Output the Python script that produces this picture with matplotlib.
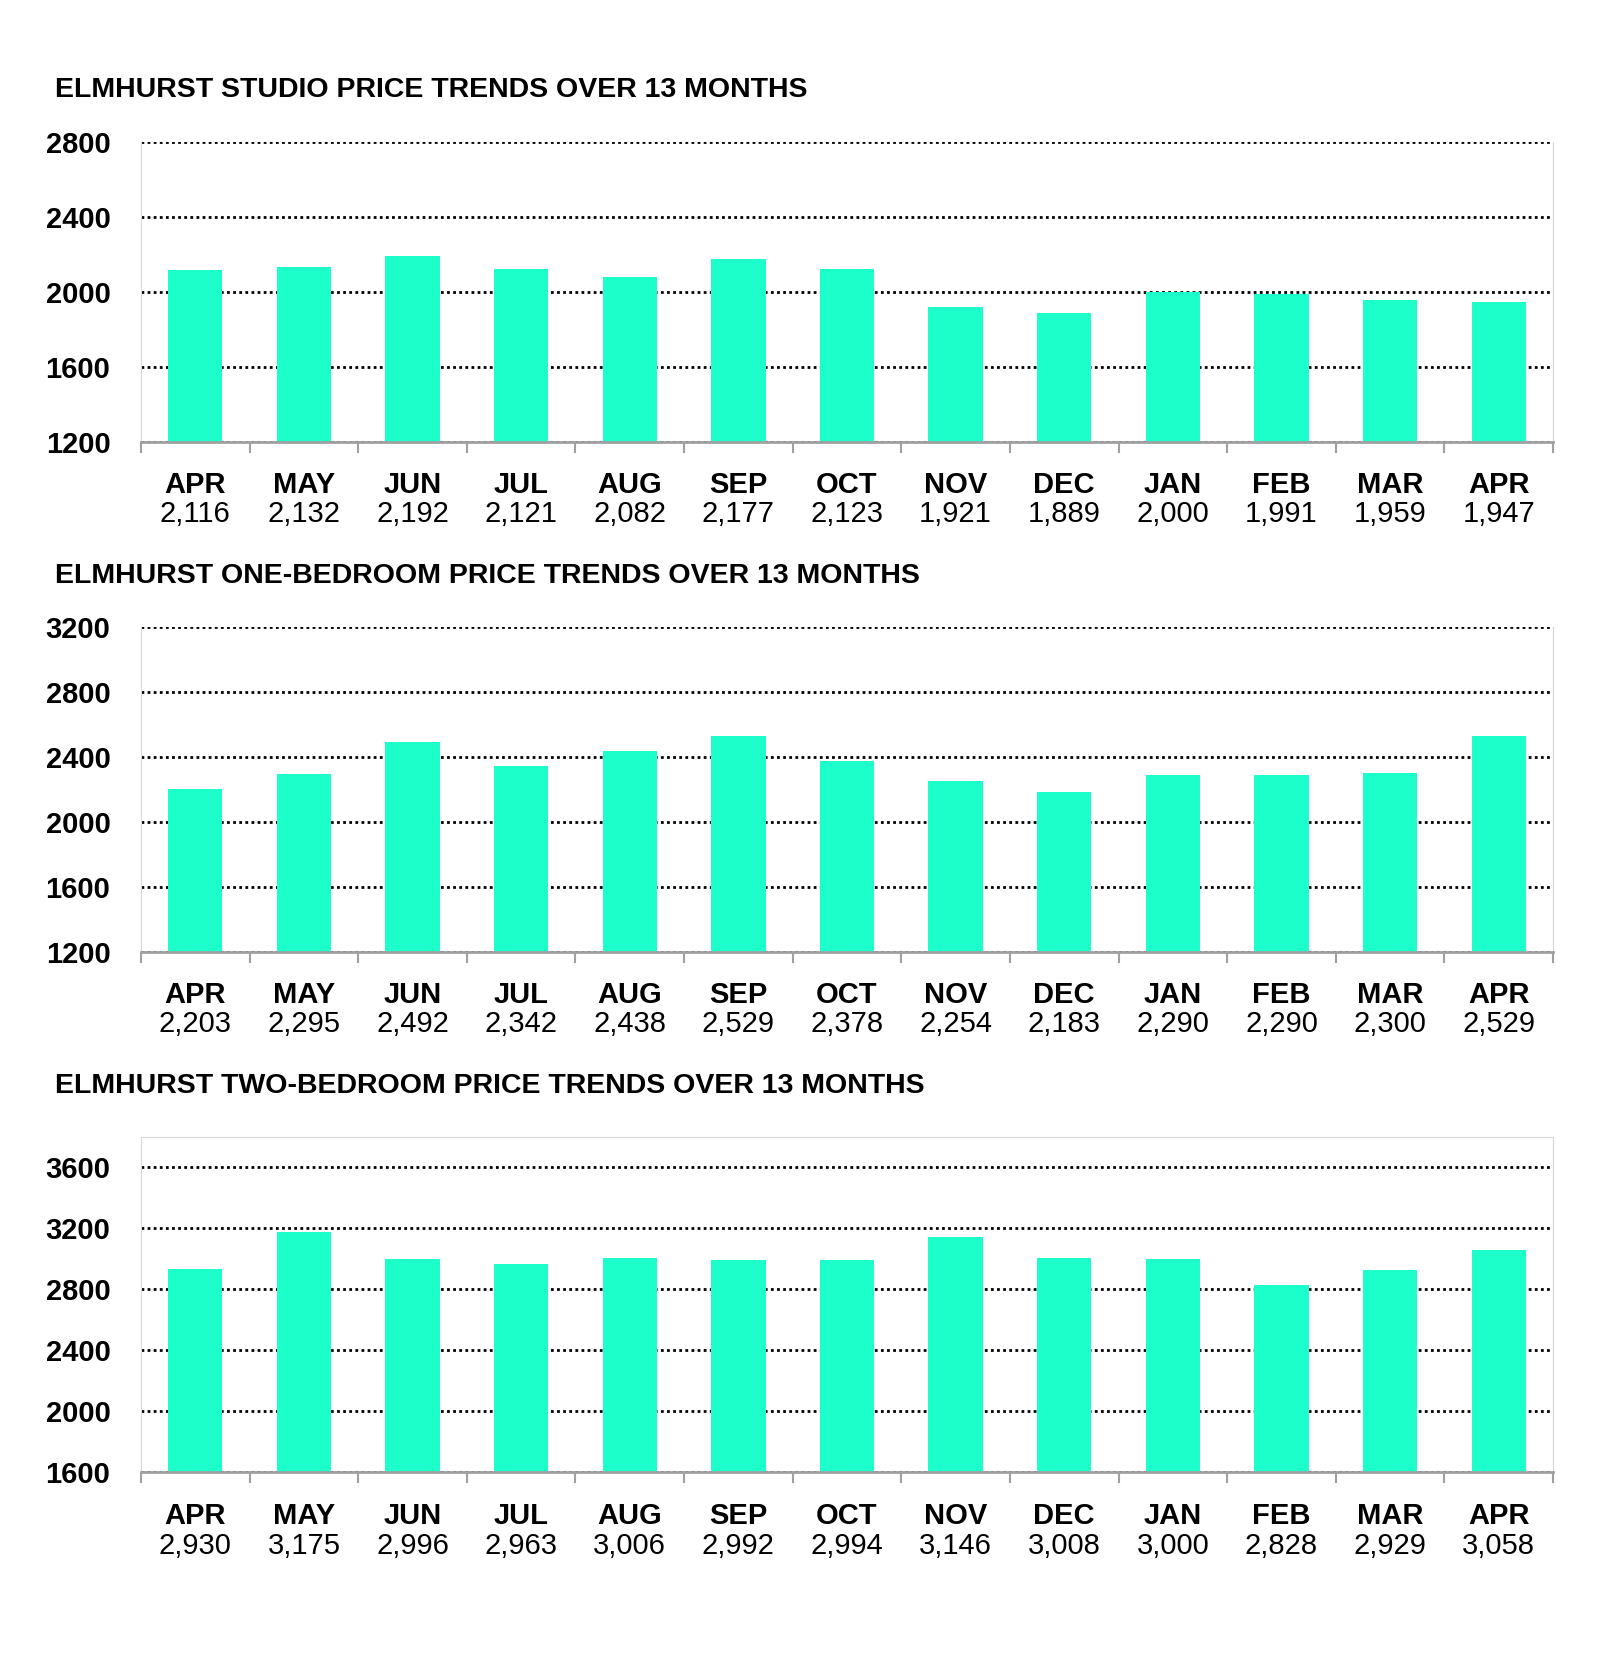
import matplotlib.pyplot as plt
import numpy as np

months = ["APR", "MAY", "JUN", "JUL", "AUG", "SEP", "OCT", "NOV", "DEC", "JAN", "FEB", "MAR", "APR"]
studio = [2116, 2132, 2192, 2121, 2082, 2177, 2123, 1921, 1889, 2000, 1991, 1959, 1947]
one_bed = [2203, 2295, 2492, 2342, 2438, 2529, 2378, 2254, 2183, 2290, 2290, 2300, 2529]
two_bed = [2930, 3175, 2996, 2963, 3006, 2992, 2994, 3146, 3008, 3000, 2828, 2929, 3058]

titles = ["ELMHURST STUDIO PRICE TRENDS OVER 13 MONTHS",
          "ELMHURST ONE-BEDROOM PRICE TRENDS OVER 13 MONTHS",
          "ELMHURST TWO-BEDROOM PRICE TRENDS OVER 13 MONTHS"]
ylims = [(1200, 2800), (1200, 3200), (1600, 3800)]
yticks = [np.arange(1200, 2801, 400), np.arange(1200, 3201, 400), np.arange(1600, 3601, 400)]

plt.rcParams['font.family'] = ['Liberation Sans', 'DejaVu Sans']

W, H = 1600, 1663
fig = plt.figure(figsize=(W / 100, H / 100), dpi=100)

# pixel boxes: (top, bottom) of each plot area, title y
boxes = [(142, 442, 90), (627, 952, 576), (1137, 1472, 1086)]
left, right = 141, 1553
bar_color = "#1CFFCB"

for k, series in enumerate([studio, one_bed, two_bed]):
    top, bot, ty = boxes[k]
    ax = fig.add_axes([left / W, 1 - bot / H, (right - left) / W, (bot - top) / H])
    x = np.arange(len(months))
    ax.bar(x, series, width=0.5, color=bar_color, zorder=2)
    ax.set_xlim(-0.5, len(months) - 0.5)
    ax.set_ylim(*ylims[k])
    ax.set_yticks(yticks[k])
    ax.set_axisbelow(True)
    ax.grid(axis='y', linestyle=(0, (1, 1.2)), color='black', linewidth=2)
    ax.tick_params(axis='y', length=0, pad=22, labelsize=21)
    for lab in ax.get_yticklabels():
        lab.set_fontweight('bold')

    ax.set_xticks(np.arange(-0.5, len(months)), labels=[])
    ax.tick_params(axis='x', length=8, width=1.5, color='#a0a0a0', direction='out')

    ax.spines['bottom'].set_color('#a0a0a0')
    ax.spines['bottom'].set_linewidth(2)
    ax.spines['bottom'].set_zorder(3)
    ax.spines['left'].set_color('#d8d8d8')
    ax.spines['right'].set_color('#d8d8d8')
    if k == 2:
        ax.spines['top'].set_color('#d8d8d8')
    else:
        ax.spines['top'].set_visible(False)

    off1 = 43 if k < 2 else 44
    off2 = 72 if k < 2 else 74
    for i, (m, v) in enumerate(zip(months, series)):
        ax.annotate(m, xy=(i, 0), xycoords=('data', 'axes fraction'),
                    xytext=(0, -off1 * 0.72), textcoords='offset points',
                    ha='center', va='center', fontsize=21, fontweight='bold')
        ax.annotate(f"{v:,}", xy=(i, 0), xycoords=('data', 'axes fraction'),
                    xytext=(0, -off2 * 0.72), textcoords='offset points',
                    ha='center', va='center', fontsize=21)

    fig.text(55 / W, 1 - ty / H, titles[k], ha='left', va='center',
             fontsize=20.5, fontweight='bold')

fig.savefig("out.png", dpi=100, facecolor='white')
